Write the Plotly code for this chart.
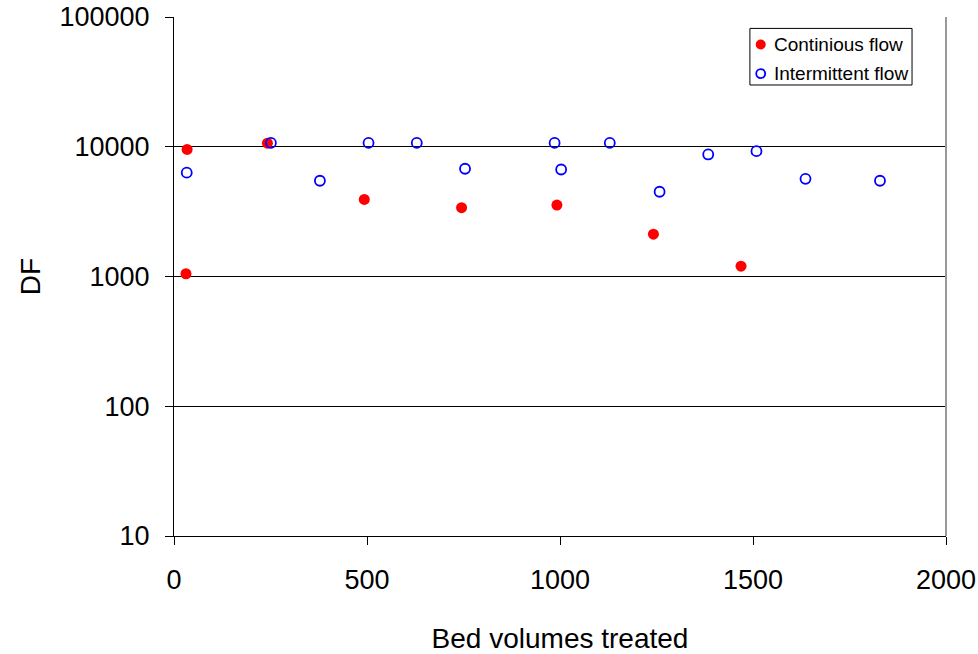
import plotly.graph_objects as go

cont_x = [34, 31, 242, 493, 745, 992, 1242, 1469]
cont_y = [9530, 1050, 10660, 3925, 3390, 3550, 2120, 1200]

inter_x = [33, 251, 378, 504, 629, 754, 986, 1003, 1129, 1258, 1384, 1509, 1636, 1829]
inter_y = [6310, 10700, 5470, 10700, 10700, 6770, 10700, 6680, 10700, 4500, 8720, 9250, 5660, 5470]

x_ticks = [0, 500, 1000, 1500, 2000]
y_ticks = [10, 100, 1000, 10000, 100000]
y_tick_text = ["10", "100", "1000", "10000", "100000"]

legend_names = ["Continious flow", "Intermittent flow"]

FONT = "Liberation Sans, Arial, sans-serif"
TICK = 27
TITLE = 28

fig = go.Figure()
fig.add_trace(go.Scatter(
    x=cont_x, y=cont_y, mode="markers", name=legend_names[0], showlegend=False,
    marker=dict(symbol="circle", size=11, color="#ff0000", line=dict(width=0)),
))
fig.add_trace(go.Scatter(
    x=inter_x, y=inter_y, mode="markers", name=legend_names[1], showlegend=False,
    marker=dict(symbol="circle-open", size=10, color="#0000ff", line=dict(width=1.8, color="#0000ff")),
))

fig.update_layout(
    width=978, height=654,
    margin=dict(l=174, r=32, t=17, b=118),
    paper_bgcolor="white", plot_bgcolor="white",
    font=dict(family=FONT, size=TICK, color="black"),
    showlegend=False,
    xaxis=dict(
        range=[0, 2000], tickvals=x_ticks, ticks="outside", ticklen=8,
        tickcolor="black", showline=True, linecolor="black", linewidth=1,
        showgrid=False, zeroline=False, mirror=False, automargin=False,
        tickfont=dict(family=FONT, size=TICK),
        title=dict(text="Bed volumes treated", font=dict(family=FONT, size=TITLE), standoff=36),
        ticklabelstandoff=12,
    ),
    yaxis=dict(
        type="log", range=[1, 5], tickvals=y_ticks, ticktext=y_tick_text,
        ticks="outside", ticklen=8, tickcolor="black", automargin=False,
        showline=True, linecolor="black", linewidth=1,
        showgrid=True, gridcolor="black", gridwidth=1, zeroline=False,
        tickfont=dict(family=FONT, size=TICK),
        title=dict(text="DF", font=dict(family=FONT, size=TITLE), standoff=10),
        ticklabelstandoff=10,
    ),
)

# right border of plot area
fig.add_shape(type="line", xref="paper", yref="paper", x0=1, x1=1, y0=0, y1=1,
              line=dict(color="#999999", width=2))

# legend box
fig.add_shape(type="rect", xref="paper", yref="paper", x0=0.746, x1=0.956, y0=0.869, y1=0.978,
              line=dict(color="black", width=1), fillcolor="white", layer="above")
leg_y = [0.947, 0.891]
fig.add_shape(type="circle", xref="paper", yref="paper", xsizemode="pixel", ysizemode="pixel",
              xanchor=0.760, yanchor=leg_y[0], x0=-5, x1=5, y0=-5, y1=5,
              fillcolor="#ff0000", line=dict(width=0), layer="above")
fig.add_shape(type="circle", xref="paper", yref="paper", xsizemode="pixel", ysizemode="pixel",
              xanchor=0.760, yanchor=leg_y[1], x0=-4.5, x1=4.5, y0=-4.5, y1=4.5,
              fillcolor="rgba(0,0,0,0)", line=dict(width=1.8, color="#0000ff"), layer="above")
for name, yy in zip(legend_names, leg_y):
    fig.add_annotation(xref="paper", yref="paper", x=0.774, y=yy, text=name, showarrow=False,
                       xanchor="left", yanchor="middle", font=dict(family=FONT, size=19, color="black"))

fig.write_html("out.html", config={"displayModeBar": False},
               post_script="document.body.style.margin='0';document.body.style.overflow='hidden';")
